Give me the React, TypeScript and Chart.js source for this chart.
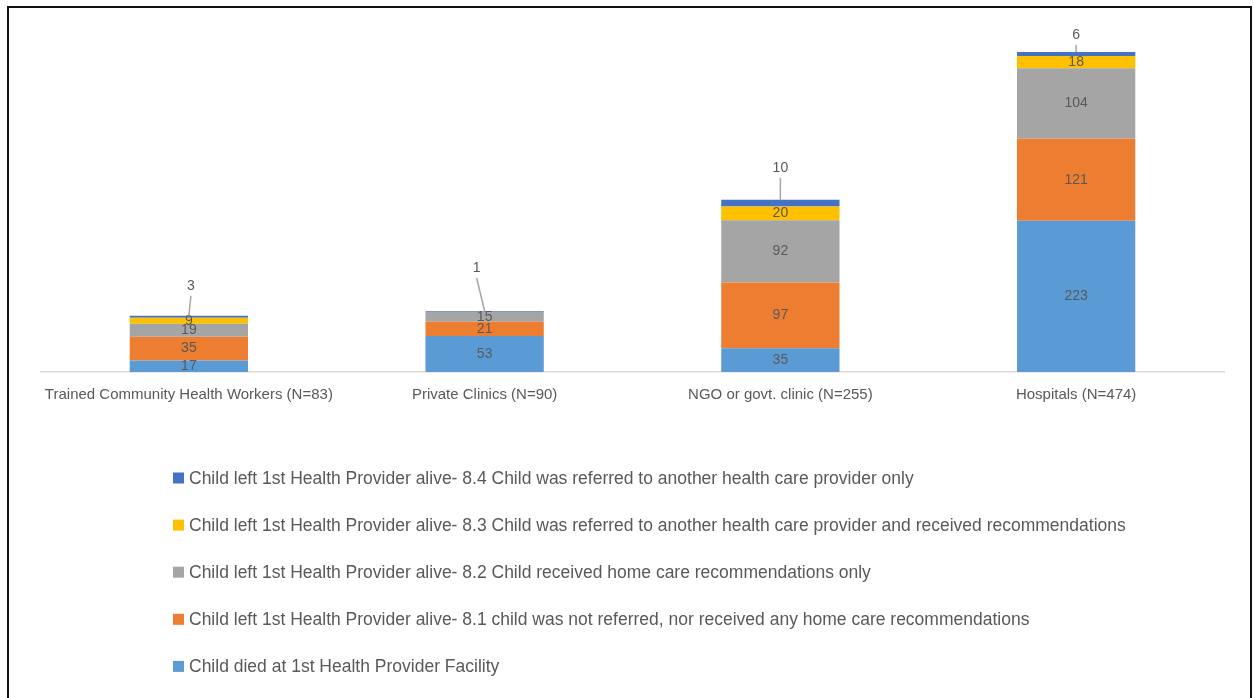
import React, { useEffect, useRef } from "react";
import { Chart, registerables } from "chart.js";

Chart.register(...registerables);

// Provider categories along the x axis
const categories = [
  "Trained Community Health Workers (N=83)",
  "Private Clinics (N=90)",
  "NGO or govt. clinic (N=255)",
  "Hospitals (N=474)",
];

// Stacked series, bottom to top
const childDied = [17, 53, 35, 223];
const notReferredNoRecs = [35, 21, 97, 121];
const homeCareOnly = [19, 15, 92, 104];
const referredAndRecs = [9, 0, 20, 18];
const referredOnly = [3, 1, 10, 6];

const seriesNames = [
  "Child died at 1st Health Provider Facility",
  "Child left 1st Health Provider alive- 8.1 child was not referred, nor received any home care recommendations",
  "Child left 1st Health Provider alive- 8.2 Child received home care recommendations only",
  "Child left 1st Health Provider alive- 8.3 Child was referred to another health care provider and received recommendations",
  "Child left 1st Health Provider alive- 8.4 Child was referred to another health care provider only",
];

const seriesColors = ["#5B9BD5", "#ED7D31", "#A5A5A5", "#FFC000", "#4472C4"];

// Where the top-segment callout labels sit, relative to the top of each bar
const calloutDx = [2, -8, 0, 0];
const calloutDy = [-30, -43, -32, -17];

const TEXT_GRAY = "#595959";
const LABEL_FONT = "14px 'Liberation Sans Narrow', 'Arial Narrow', 'Liberation Sans', sans-serif";

// Value labels: centred in each segment, with a leader-line callout for the top series
const valueLabels = {
  id: "valueLabels",
  afterDatasetsDraw(chart: any) {
    const ctx = chart.ctx;
    const last = chart.data.datasets.length - 1;
    ctx.save();
    ctx.font = LABEL_FONT;
    ctx.fillStyle = TEXT_GRAY;
    ctx.textAlign = "center";
    ctx.textBaseline = "middle";
    chart.data.datasets.forEach((ds: any, di: number) => {
      const meta = chart.getDatasetMeta(di);
      meta.data.forEach((bar: any, i: number) => {
        const v = ds.data[i];
        if (!v) return;
        if (di === last) {
          const lx = bar.x + calloutDx[i];
          const ly = bar.y + calloutDy[i];
          ctx.strokeStyle = "#A6A6A6";
          ctx.lineWidth = 1.5;
          ctx.beginPath();
          ctx.moveTo(lx, ly + 10);
          ctx.lineTo(bar.x, bar.y);
          ctx.stroke();
          ctx.fillText(String(v), lx, ly);
        } else {
          ctx.fillText(String(v), bar.x, (bar.y + bar.base) / 2);
        }
      });
    });
    ctx.restore();
  },
};

// Vertical legend below the axis, top series first
const listLegend = {
  id: "listLegend",
  afterDraw(chart: any) {
    const ctx = chart.ctx;
    const n = chart.data.datasets.length;
    const x0 = 173;
    const y0 = 478;
    const step = 47.1;
    ctx.save();
    ctx.font = "17.5px 'Liberation Sans', Arial, sans-serif";
    ctx.textBaseline = "middle";
    ctx.textAlign = "left";
    for (let k = 0; k < n; k++) {
      const ds = chart.data.datasets[n - 1 - k];
      const y = y0 + k * step;
      ctx.fillStyle = ds.backgroundColor;
      ctx.fillRect(x0, y - 5.5, 11, 11);
      ctx.fillStyle = TEXT_GRAY;
      ctx.fillText(ds.label, x0 + 16, y + 1);
    }
    ctx.restore();
  },
};

export default function App() {
  const canvasRef = useRef<HTMLCanvasElement | null>(null);

  useEffect(() => {
    const canvas = canvasRef.current;
    if (!canvas) return;
    const values = [childDied, notReferredNoRecs, homeCareOnly, referredAndRecs, referredOnly];
    const chart = new Chart(canvas, {
      type: "bar",
      data: {
        labels: categories,
        datasets: values.map((data, i) => ({
          label: seriesNames[i],
          data,
          backgroundColor: seriesColors[i],
          borderWidth: 0,
          barPercentage: 0.4,
          categoryPercentage: 1,
        })),
      },
      options: {
        animation: false,
        responsive: false,
        devicePixelRatio: 1,
        layout: { padding: { left: 41, right: 30, top: 33, bottom: 280 } },
        plugins: {
          legend: { display: false },
          tooltip: { enabled: false },
        },
        scales: {
          x: {
            stacked: true,
            grid: { display: false, drawTicks: false },
            border: { display: true, color: "#D9D9D9", width: 1.5 },
            ticks: {
              color: TEXT_GRAY,
              padding: 14,
              maxRotation: 0,
              autoSkip: false,
              font: { family: "'Liberation Sans', Arial, sans-serif", size: 15 },
            },
          },
          y: {
            stacked: true,
            display: false,
            min: 0,
            max: 500,
          },
        },
      },
      plugins: [valueLabels, listLegend],
    });
    return () => chart.destroy();
  }, []);

  return (
    <>
      <canvas
        ref={canvasRef}
        width={1254}
        height={698}
        style={{ position: "fixed", left: 0, top: 0, width: 1254, height: 698, background: "#fff" }}
      />
      <div
        style={{
          position: "fixed",
          left: 7,
          top: 6,
          width: 1241,
          height: 720,
          border: "2px solid #111",
          pointerEvents: "none",
        }}
      />
    </>
  );
}
